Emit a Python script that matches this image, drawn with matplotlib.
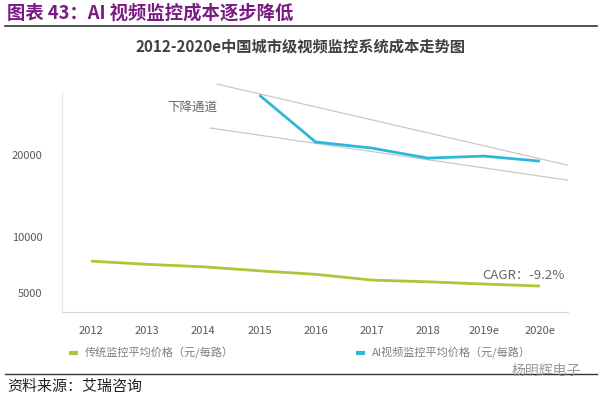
import numpy as np
import matplotlib
matplotlib.use('Agg')
import matplotlib.pyplot as plt

plt.rcParams['font.family'] = ['Noto Sans CJK SC', 'DejaVu Sans']

years = ['2012', '2013', '2014', '2015', '2016', '2017', '2018', '2019e', '2020e']
traditional = [7660, 7370, 7150, 6800, 6500, 6020, 5880, 5700, 5540]
ai_years = ['2015', '2016', '2017', '2018', '2019e', '2020e']
ai_price = [29200, 21870, 20990, 19570, 19850, 19150]

yticks = [5000, 10000, 20000]

# channel lines (start/end in category units and price)
upper_x = [2.25, 8.49]
upper_y = [31060, 18610]
lower_x = [2.12, 8.49]
lower_y = [23960, 16620]

green = '#A6C83A'
cyan = '#2DB8DA'
grey_txt = '#595959'

p = 0.55
fwd = lambda v: np.power(np.clip(v, 1e-9, None), p)
inv = lambda v: np.power(np.clip(v, 1e-9, None), 1 / p)

fig = plt.figure(figsize=(6, 3.99), dpi=100)
ax = fig.add_axes([62 / 600, 1 - 312 / 399, 506 / 600, 220 / 399])

x = np.arange(len(years))
ax_x = [years.index(y) for y in ai_years]

ax.plot(upper_x, upper_y, color='#C8C8C8', lw=0.9, clip_on=False)
ax.plot(lower_x, lower_y, color='#C8C8C8', lw=0.9, clip_on=False)
ax.plot(x, traditional, color=green, lw=2.0, solid_capstyle='butt',
        label='传统监控平均价格（元/每路）')
ax.plot(ax_x, ai_price, color=cyan, lw=2.0, solid_capstyle='butt',
        label='AI视频监控平均价格（元/每路）', clip_on=False)

ax.set_yscale('function', functions=(fwd, inv))
ax.set_ylim(3665, 29730)
ax.set_xlim(-0.52, 8.5)
ax.set_yticks(yticks)
ax.set_yticklabels([str(t) for t in yticks])
ax.set_xticks(x)
ax.set_xticklabels(years)
ax.minorticks_off()

for s in ['top', 'right']:
    ax.spines[s].set_visible(False)
ax.spines['left'].set_color('#E6E6E6')
ax.spines['bottom'].set_color('#D9D9D9')
ax.tick_params(axis='both', length=0, labelsize=8, colors=grey_txt)
ax.tick_params(axis='x', pad=10)
ax.tick_params(axis='y', pad=14)

ax.text(1.35, 27270, '下降通道', fontsize=9, color='#666666', ha='left', va='center')
ax.text(7.7, 6440, 'CAGR：-9.2%', fontsize=9.5, color='#666666', ha='center', va='center')

leg = fig.legend(loc='center', bbox_to_anchor=(0.5, 1 - 353 / 399), ncol=2,
                 frameon=False, fontsize=8, handlelength=0.8, columnspacing=11,
                 handletextpad=0.6)
for t in leg.get_texts():
    t.set_color('#7F7F7F')
for h in leg.get_lines():
    h.set_linewidth(3)

fig.text(7 / 600, 1 - 13 / 399, '图表 43：AI 视频监控成本逐步降低', fontsize=13.2,
         fontweight='bold', color='#7A1A82', ha='left', va='center')
fig.add_artist(plt.Line2D([5 / 600, 597 / 600], [1 - 26 / 399, 1 - 26 / 399],
                          color='#333333', lw=1.2))
fig.text(0.5, 1 - 46 / 399, '2012-2020e中国城市级视频监控系统成本走势图', fontsize=11,
         fontweight='bold', color='#404040', ha='center', va='center')

fig.add_artist(plt.Line2D([5 / 600, 597 / 600], [1 - 374 / 399, 1 - 374 / 399],
                          color='#333333', lw=1.0))
fig.text(7 / 600, 1 - 387 / 399, '资料来源：艾瑞咨询', fontsize=10.8,
         color='#222222', ha='left', va='center')
fig.text(512 / 600, 1 - 371 / 399, '杨明辉电子', fontsize=10, color='#9A9A9A',
         ha='left', va='center')

fig.savefig('out.png', dpi=100)
